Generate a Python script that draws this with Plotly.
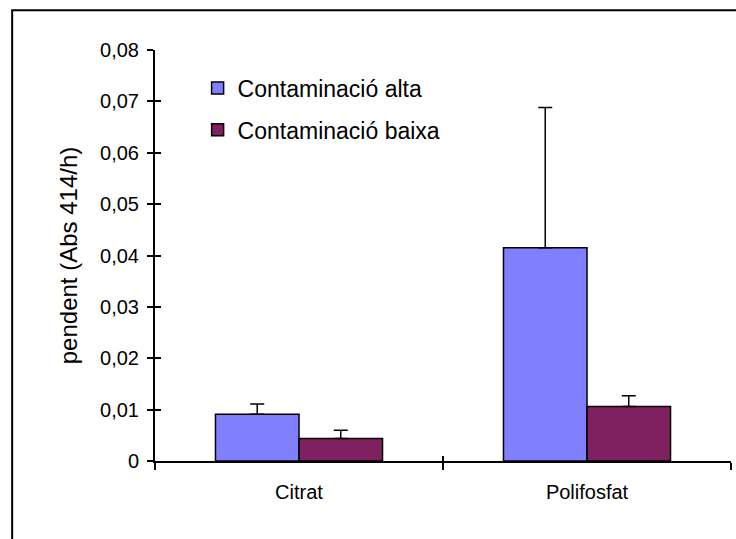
import plotly.graph_objects as go

categories = ["Citrat", "Polifosfat"]
series_names = ["Contaminació alta", "Contaminació baixa"]
alta_values = [0.0091, 0.0415]
alta_errors = [0.0020, 0.0273]
baixa_values = [0.0044, 0.0106]
baixa_errors = [0.0016, 0.0021]
y_tickvals = [0, 0.01, 0.02, 0.03, 0.04, 0.05, 0.06, 0.07, 0.08]
y_ticktext = ["0", "0,01", "0,02", "0,03", "0,04", "0,05", "0,06", "0,07", "0,08"]

colors = ["#8080FF", "#802060"]
FONT = "Liberation Sans, Arial, sans-serif"

fig = go.Figure()
for name, vals, errs, col in zip(series_names, [alta_values, baixa_values],
                                 [alta_errors, baixa_errors], colors):
    fig.add_trace(go.Bar(
        x=categories, y=vals, name=name, legendgroup=name,
        marker=dict(color=col, line=dict(color="black", width=1.5)),
        error_y=dict(type="data", array=errs, symmetric=False,
                     arrayminus=[0] * len(errs), color="black",
                     thickness=1.5, width=7),
    ))

# invisible helper trace for crossing ticks
fig.add_trace(go.Scatter(x=[0], y=[0], xaxis="x2", yaxis="y2", mode="markers",
                         marker=dict(opacity=0), showlegend=False, hoverinfo="skip"))

fig.update_layout(
    width=736, height=539,
    margin=dict(l=155, r=5, t=50, b=78),
    paper_bgcolor="white", plot_bgcolor="white",
    barmode="group", bargap=0.42, bargroupgap=0,
    font=dict(family=FONT, color="black"),
    showlegend=True,
    legend=dict(x=0.074, y=0.96, xanchor="left", yanchor="top",
                bgcolor="rgba(0,0,0,0)", font=dict(size=23, family=FONT),
                traceorder="grouped", tracegroupgap=9, itemwidth=30),
    xaxis=dict(type="category", categoryarray=categories, range=[-0.5, 1.5],
               showline=True, linecolor="black", linewidth=2,
               ticks="outside", ticklen=7, tickwidth=2, tickcolor="black",
               tickson="boundaries", showgrid=False, zeroline=False,
               tickfont=dict(size=20, family=FONT), ticklabelstandoff=12),
    yaxis=dict(range=[0, 0.08], tickvals=y_tickvals, ticktext=y_ticktext,
               showline=True, linecolor="black", linewidth=2,
               ticks="outside", ticklen=6, tickwidth=2, tickcolor="black",
               showgrid=False, zeroline=False,
               tickfont=dict(size=20, family=FONT), ticklabelstandoff=4,
               title=dict(text="pendent (Abs 414/h)", font=dict(size=24, family=FONT),
                          standoff=16)),
    xaxis2=dict(overlaying="x", range=[-0.5, 1.5], tickvals=[-0.5, 0.5, 1.5],
                ticks="inside", ticklen=5, tickwidth=2, tickcolor="black",
                showticklabels=False, showgrid=False, zeroline=False, showline=False),
    yaxis2=dict(overlaying="y", range=[0, 0.08], tickvals=y_tickvals,
                ticks="inside", ticklen=6, tickwidth=2, tickcolor="black",
                showticklabels=False, showgrid=False, zeroline=False, showline=False),
    shapes=[dict(type="rect", xref="paper", yref="paper",
                 x0=-0.248, x1=1.2, y0=-0.4, y1=1.097,
                 line=dict(color="black", width=2), fillcolor="rgba(0,0,0,0)",
                 layer="below")],
)

fig.write_html("out.html")
